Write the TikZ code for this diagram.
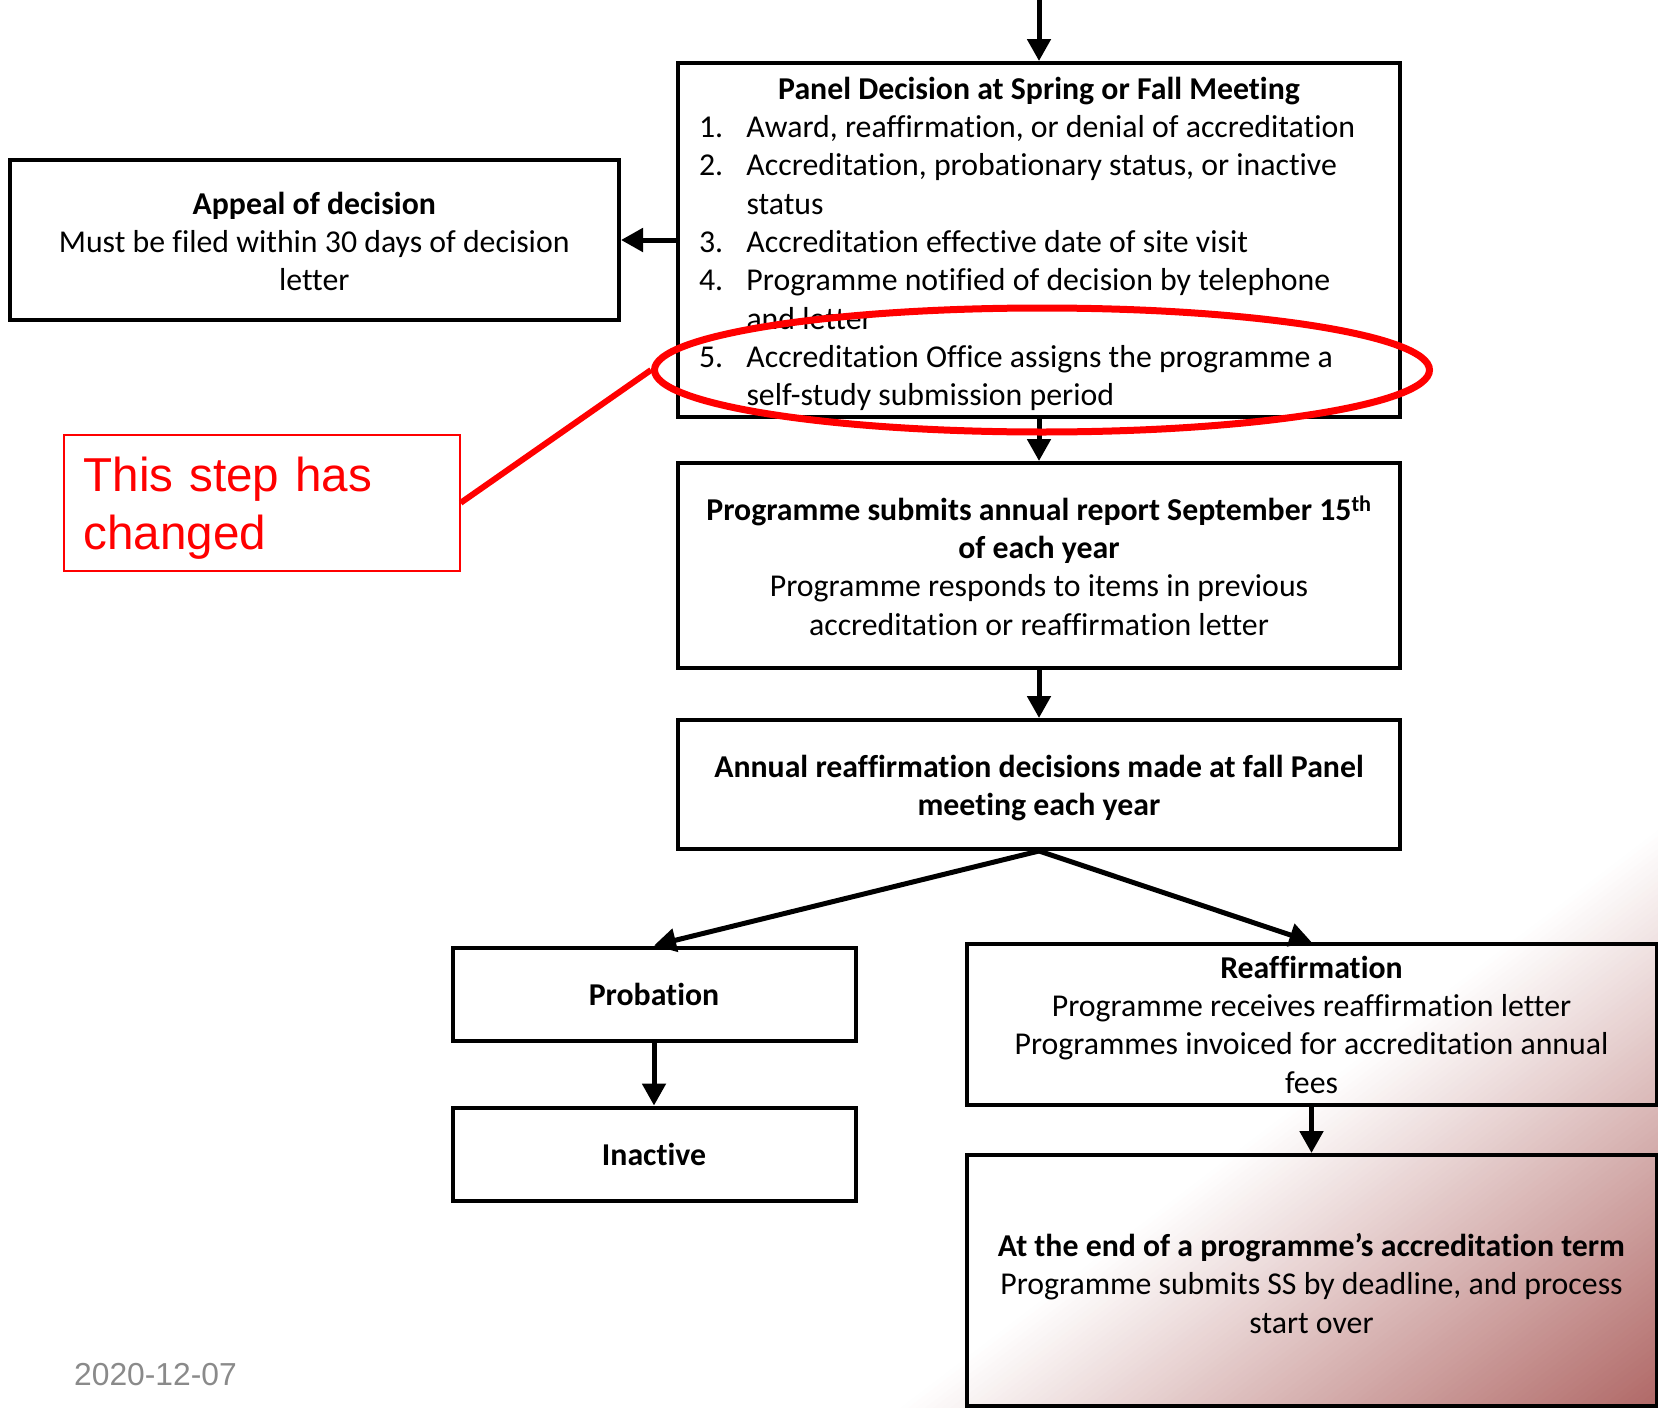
\documentclass[tikz,border=0pt]{standalone}
\usepackage{fontspec}
\setmainfont{Carlito}[Ligatures=NoCommon]
\newfontfamily\arialf{Liberation Sans}
\usetikzlibrary{arrows.meta,shapes.geometric,calc}
\definecolor{gradred}{RGB}{176,104,102}
\definecolor{dategray}{RGB}{138,138,138}
\definecolor{notered}{RGB}{255,0,0}
\tikzset{
  box/.style={draw=black, line width=4pt, rectangle, inner sep=0pt, align=center,
    font=\fontsize{31.8}{38.3}\selectfont},
  arr/.style={line width=5pt, -{Triangle[length=22pt,width=23pt]}},
  notebox/.style={draw=notered, line width=2pt, rectangle, inner xsep=20pt, inner ysep=0pt,
    align=left, text=notered, font=\arialf\fontsize{47.6}{58}\selectfont},
}
\begin{document}
\begin{tikzpicture}[x=1pt,y=-1pt]
\useasboundingbox (0,0) rectangle (1658,1408);
% background gradient in the lower right corner
\begin{scope}
  \clip (0,0) rectangle (1658,1408);
  \foreach \i in {0,...,89}{
    \pgfmathsetmacro\s{5.11111*\i}
    \pgfmathsetmacro\p{1.11111*(\i+0.5)}
    \fill[gradred!\p!white]
      ({1658+\s*0.6065-954.5},{830+\s*0.7954+727.8}) --
      ({1658+\s*0.6065+954.5},{830+\s*0.7954-727.8}) --
      (3037.1,659) -- (1128.1,2114.6) -- cycle;
  }
\end{scope}

% boxes
\node[box, minimum width=722pt, minimum height=354pt, align=left] (panel) at (1039,240)
 {\rule{0pt}{30pt}\makebox[680pt][c]{\bfseries Panel Decision at Spring or Fall Meeting}\\
  \makebox[47.5pt][l]{1.}Award, reaffirmation, or denial of accreditation\\
  \makebox[47.5pt][l]{2.}Accreditation, probationary status, or inactive\\
  \hspace*{47.5pt}status\\
  \makebox[47.5pt][l]{3.}Accreditation effective date of site visit\\
  \makebox[47.5pt][l]{4.}Programme notified of decision by telephone\\
  \hspace*{47.5pt}and letter\\
  \makebox[47.5pt][l]{5.}Accreditation Office assigns the programme a\\
  \hspace*{47.5pt}self-study submission period};

\node[box, minimum width=609.5pt, minimum height=160pt] (appeal) at (314.25,240)
 {\rule{0pt}{25.5pt}\textbf{Appeal of decision}\\Must be filed within 30 days of decision\\letter};

\node[box, minimum width=722pt, minimum height=205pt] (report) at (1039,565.5)
 {\textbf{Programme submits annual report September 15\textsuperscript{th}}\\
  \textbf{of each year}\\
  Programme responds to items in previous\\
  accreditation or reaffirmation letter};

\node[box, minimum width=722pt, minimum height=129pt] (annual) at (1039,784.5)
 {\rule{0pt}{29.7pt}\textbf{Annual reaffirmation decisions made at fall Panel}\\\textbf{meeting each year}};

\node[box, minimum width=403pt, minimum height=93pt] (probation) at (654,994)
 {\textbf{Probation}};
\node[box, minimum width=403pt, minimum height=93.5pt] (inactive) at (654,1154.3)
 {\textbf{Inactive}};

\node[box, minimum width=690pt, minimum height=161pt] (reaff) at (1311.5,1024.5)
 {\textbf{Reaffirmation}\\
  Programme receives reaffirmation letter\\
  Programmes invoiced for accreditation annual\\
  fees};

\node[box, minimum width=690pt, minimum height=251pt] (endterm) at (1311.5,1280.5)
 {\rule{0pt}{28.7pt}\textbf{At the end of a programme’s accreditation term}\\
  Programme submits SS by deadline, and process\\
  start over};

\node[notebox, text width=356pt, minimum height=136.4pt] (note) at (261.7,502.8)
 {\rule{0pt}{46pt}This step has\\changed};

\node[inner sep=0pt, text=dategray, font=\arialf\fontsize{31.8}{38}\selectfont] (date) at (155.5,1374.6) {2020-12-07};

% connectors
\coordinate (topin) at (1039,0);
\draw[arr] (topin) -- (panel.north);
\draw[arr] (panel.west) -- (appeal.east);
\draw[arr] (panel.south) -- (report.north);
\draw[arr] (report.south) -- (annual.north);
\draw[arr] (annual.south) -- (probation.north);
\draw[arr] (annual.south) -- (reaff.north);
\draw[arr] (probation.south) -- (inactive.north);
\draw[arr] (reaff.south) -- (endterm.north);

% highlight
\node[ellipse, draw=notered, line width=7pt, inner sep=0pt, minimum width=775pt, minimum height=124pt] (oval) at (1042,370) {};
\draw[notered, line width=6pt] (note.east) -- (oval.west);
\end{tikzpicture}
\end{document}
